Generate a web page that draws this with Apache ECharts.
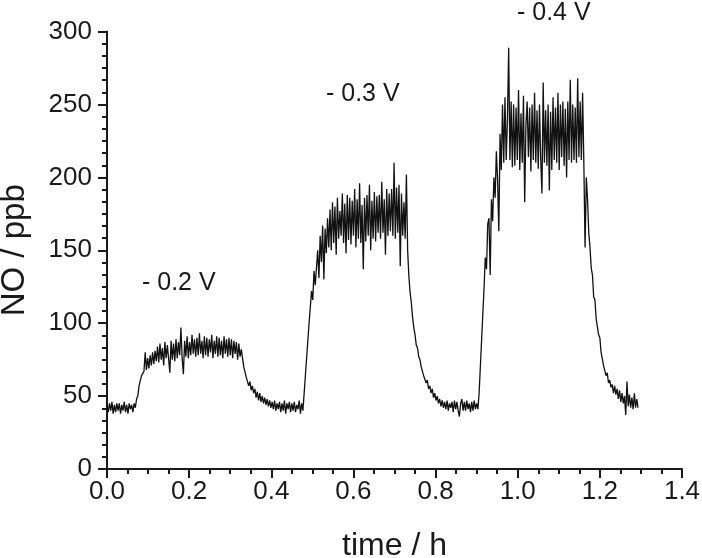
<!DOCTYPE html>
<html>
<head>
<meta charset="utf-8">
<script src="https://cdn.jsdelivr.net/npm/echarts@6/dist/echarts.min.js"></script>
<style>
html,body{margin:0;padding:0;background:#fff;}
#chart{width:702px;height:558px;}
</style>
</head>
<body>
<div id="chart"></div>
<script>
// Sampling step of the recording (hours)
const timeStep = 0.003;
// NO concentration (ppb), one value per time step from t = 0
const noValues = [
  44, 39, 45, 40, 46, 38, 44, 39, 45, 40,
  45, 38, 44, 40, 46, 39, 44, 38, 45, 41,
  44, 39, 45, 42, 48, 50, 57, 57, 64, 63,
  67, 80, 68, 76, 69, 78, 71, 80, 72, 81,
  74, 84, 73, 86, 75, 83, 71, 87, 76, 85,
  84, 66, 88, 75, 86, 74, 89, 76, 87, 78,
  97, 76, 65, 88, 77, 91, 76, 87, 78, 92,
  79, 89, 77, 90, 78, 93, 79, 88, 76, 91,
  78, 90, 77, 89, 80, 92, 76, 88, 79, 91,
  77, 90, 78, 88, 76, 91, 79, 89, 77, 90,
  78, 89, 76, 88, 79, 87, 75, 86, 77, 82,
  76, 70, 71, 63, 64, 57, 60, 54, 57, 52,
  55, 49, 53, 47, 52, 46, 50, 45, 49, 44,
  48, 43, 47, 42, 46, 41, 47, 40, 45, 41,
  46, 39, 45, 40, 47, 38, 45, 41, 46, 39,
  45, 40, 46, 39, 44, 41, 47, 38, 45, 40,
  52, 64, 76, 88, 100, 111, 122, 116, 136, 126,
  138, 150, 131, 160, 142, 167, 130, 165, 148, 172,
  152, 178, 150, 183, 155, 180, 147, 186, 158, 177,
  160, 189, 155, 182, 148, 188, 157, 186, 154, 184,
  160, 192, 152, 185, 158, 196, 155, 181, 137, 186,
  156, 188, 160, 195, 150, 184, 158, 190, 156, 187,
  162, 188, 158, 197, 162, 185, 147, 192, 160, 189,
  163, 192, 160, 210, 158, 193, 162, 195, 139, 189,
  160, 183, 158, 202, 150, 132, 121, 114, 104, 97,
  92, 85, 83, 77, 75, 70, 69, 64, 64, 59,
  61, 55, 57, 52, 55, 49, 52, 47, 50, 45,
  48, 43, 47, 42, 46, 41, 47, 40, 45, 42,
  46, 39, 47, 41, 46, 40, 36, 45, 48, 40,
  46, 40, 47, 41, 45, 39, 46, 40, 47, 41,
  45, 41, 52, 70, 88, 106, 124, 145, 137, 168,
  172, 133, 185, 170, 200, 186, 218, 198, 163, 230,
  205, 250, 210, 255, 212, 240, 289, 212, 252, 207,
  250, 208, 248, 212, 260, 205, 244, 210, 256, 183,
  236, 252, 214, 248, 204, 250, 212, 258, 210, 246,
  206, 250, 212, 189, 265, 210, 246, 208, 250, 191,
  245, 205, 255, 212, 248, 210, 258, 205, 250, 214,
  252, 208, 247, 200, 252, 212, 267, 210, 250, 212,
  248, 210, 268, 214, 252, 212, 258, 210, 152, 200,
  185, 162, 152, 138, 133, 118, 116, 103, 102, 92,
  90, 80, 80, 71, 72, 64, 66, 59, 61, 56,
  58, 52, 57, 51, 55, 48, 54, 46, 52, 45,
  50, 37, 60, 43, 51, 42, 49, 41, 52, 42,
  48, 42
];
// Axis ranges / tick spacing
const xRange = [0, 1.4], xStep = 0.2;
const yRange = [0, 300], yStep = 50;
// Annotation texts
const annotationTexts = ['- 0.2 V', '- 0.3 V', '- 0.4 V'];

const seriesData = noValues.map((v, i) => [+(i * timeStep).toFixed(4), v]);

const chart = echarts.init(document.getElementById('chart'), null, {renderer: 'canvas'});
const FONT = '"Liberation Sans", Arial, sans-serif';
const axisColor = '#1a1a1a';
const annPos = [[142, 283], [326, 94], [517, 13]];

chart.setOption({
  animation: false,
  backgroundColor: '#fff',
  grid: {left: 107, right: 20, top: 31.6, bottom: 89, containLabel: false, outerBoundsMode: 'none'},
  xAxis: {
    type: 'value', min: xRange[0], max: xRange[1], interval: xStep,
    name: 'time / h', nameLocation: 'middle', nameGap: 61,
    nameTextStyle: {fontFamily: FONT, fontSize: 32, color: axisColor},
    axisLine: {show: true, onZero: false, lineStyle: {color: axisColor, width: 2}},
    axisTick: {show: true, inside: false, length: 9, lineStyle: {color: axisColor, width: 2}},
    minorTick: {show: true, splitNumber: 4, length: 5, lineStyle: {color: axisColor, width: 2}},
    splitLine: {show: false},
    axisLabel: {fontFamily: FONT, fontSize: 26, color: axisColor, margin: 10,
      formatter: v => v.toFixed(1)}
  },
  yAxis: {
    type: 'value', min: yRange[0], max: yRange[1], interval: yStep,
    name: 'NO / ppb', nameLocation: 'middle', nameGap: 76,
    nameTextStyle: {fontFamily: FONT, fontSize: 33, color: axisColor},
    axisLine: {show: true, onZero: false, lineStyle: {color: axisColor, width: 2}},
    axisTick: {show: true, inside: false, length: 9, lineStyle: {color: axisColor, width: 2}},
    minorTick: {show: true, splitNumber: 6, length: 5, lineStyle: {color: axisColor, width: 2}},
    splitLine: {show: false},
    axisLabel: {fontFamily: FONT, fontSize: 26, color: axisColor, margin: 15}
  },
  series: [{
    type: 'line',
    data: seriesData,
    showSymbol: false,
    symbol: 'none',
    smooth: false,
    lineStyle: {color: '#111', width: 1.3},
    silent: true
  }],
  graphic: annotationTexts.map((t, i) => ({
    type: 'text',
    x: annPos[i][0], y: annPos[i][1],
    style: {text: t, font: '25px ' + FONT, fill: axisColor,
      align: 'left', verticalAlign: 'middle', textAlign: 'left', textVerticalAlign: 'middle'}
  }))
});
</script>
</body>
</html>
